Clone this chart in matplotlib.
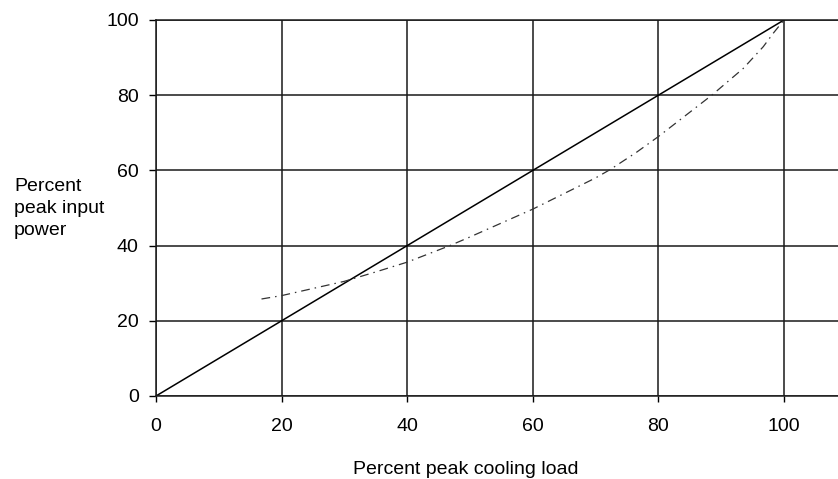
import numpy as np
import matplotlib.pyplot as plt

plt.rcParams['font.family'] = ['Liberation Sans', 'DejaVu Sans']

# 理想的な直線 (負荷に比例)
load_linear = [0, 100]
power_linear = [0, 100]

# 実際の部分負荷特性
load_actual = [16.8, 20, 25, 30, 35, 40, 46.8, 50, 60, 70, 72.3, 76.5, 80, 88.5, 93.5, 96.7, 98.3, 100]
power_actual = [25.8, 26.7, 28.6, 30.5, 33.0, 35.6, 40.0, 42.3, 49.7, 58.0, 60.2, 64.8, 69.0, 80.0, 87.1, 92.9, 96.5, 100]

xticks = [0, 20, 40, 60, 80, 100]
yticks = [0, 20, 40, 60, 80, 100]

W, H = 838, 479
fig = plt.figure(figsize=(W / 100, H / 100), dpi=100)
ax = fig.add_axes([156 / W, 1 - 396 / H, 1 - 156 / W, (396 - 20) / H])

ax.plot(load_linear, power_linear, color='black', lw=1.1)
ax.plot(load_actual, power_actual, color='#333333', lw=0.9,
        linestyle=(0, (7, 4, 1.2, 4)))

ax.set_xlim(0, 108.6)
ax.set_ylim(0, 100)
ax.set_xticks(xticks)
ax.set_yticks(yticks)
ax.grid(True, color='#1a1a1a', lw=1.1)
ax.set_axisbelow(True)
ax.spines['right'].set_visible(False)
for s in ['left', 'bottom', 'top']:
    ax.spines[s].set_color('#1a1a1a')
    ax.spines[s].set_linewidth(1.1)

ax.tick_params(axis='y', length=5, width=1.0, pad=7.5, labelsize=14)
ax.tick_params(axis='x', length=4.5, width=1.0, pad=11, labelsize=14)

# 縦軸ラベル (3行、左寄せ)
for i, line in enumerate(['Percent', 'peak input', 'power']):
    fig.text(14 / W, 1 - (190.7 + 22 * i) / H, line, fontsize=14,
             ha='left', va='baseline')

fig.text(465.5 / W, 1 - 474 / H, 'Percent peak cooling load', fontsize=14,
         ha='center', va='baseline')

fig.savefig('out.png', dpi=100)
